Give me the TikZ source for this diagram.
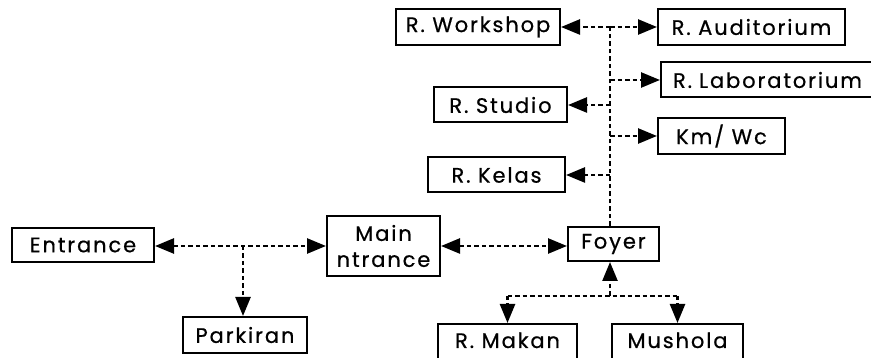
\documentclass[tikz,border=0pt]{standalone}
\usepackage{fontspec}
\setmainfont{Poppins}[LetterSpace=9,FakeBold=0.6]
\usetikzlibrary{arrows.meta}
\begin{document}
\begin{tikzpicture}[x=1pt,y=-1pt,
  room/.style={draw,line width=2pt,inner sep=0pt,
    font=\fontsize{21}{26}\selectfont,align=center},
  link/.style={line width=2.5pt,dash pattern=on 4.5pt off 3pt},
  head/.tip={Triangle[length=19pt,width=15pt]},
  to/.style={link,-head},
  both/.style={link,head-head}]
\useasboundingbox (0,0) rectangle (871,358);

% rooms off the central corridor
\node[room,minimum width=164pt,minimum height=36pt] (workshop)   at (478,27)    {R. Workshop};
\node[room,minimum width=187pt,minimum height=36pt] (auditorium) at (751.5,27)  {R. Auditorium};
\node[room,anchor=west,minimum height=35pt,text width=206pt,inner xsep=12pt,align=left]
      (lab) at (660,80) {R. Laboratorium};
\node[room,minimum width=133pt,minimum height=35pt] (studio)     at (500.5,105) {R. Studio};
\node[room,minimum width=127pt,minimum height=36pt] (kmwc)       at (721.5,136) {Km/ Wc};
\node[room,minimum width=137pt,minimum height=35pt] (kelas)      at (496.5,175) {R. Kelas};

% entrance sequence
\node[room,minimum width=142pt,minimum height=34pt] (entrance) at (83,245)    {Entrance};
\node[room,minimum width=113pt,minimum height=60pt] (main)     at (383.5,246) {Main\\ntrance};
\node[room,minimum width=91pt,minimum height=34pt]  (foyer)    at (613.5,244) {Foyer};
\node[room,minimum width=124pt,minimum height=36pt] (parkiran) at (245,335)   {Parkiran};

% rooms below the foyer, running past the lower edge
\node[room,anchor=north,minimum width=139pt,text height=16pt,text depth=14pt,inner ysep=8pt]
      (makan) at (507.5,323) {R. Makan};
\node[room,anchor=north,minimum width=131pt,text height=16pt,text depth=14pt,inner ysep=8pt]
      (mushola) at (677.5,323) {Mushola};

% corridor spine
\coordinate (spine) at (610,27);
\coordinate (split) at (610,296);
\coordinate (park)  at (243,246);

\draw[link] (foyer.north -| spine) -- (spine);
\draw[to] (spine) -- (workshop.east);
\draw[to] (spine) -- (auditorium.west);
\draw[to] (spine |- lab.west) -- (lab.west);
\draw[to] (spine |- studio.east) -- (studio.east);
\draw[to] (spine |- kmwc.west) -- (kmwc.west);
\draw[to] (spine |- kelas.east) -- (kelas.east);

\draw[both] (entrance.east |- main.west) -- (main.west);
\draw[to] (park) -- (park |- parkiran.north);
\draw[both] (main.east) -- (foyer.west |- main.east);

\draw[to] (split) -- (foyer.south -| split);
\draw[link] (split -| makan.north) -- (split -| mushola.north);
\draw[to] (split -| makan.north) -- (makan.north);
\draw[to] (split -| mushola.north) -- (mushola.north);
\end{tikzpicture}
\end{document}
